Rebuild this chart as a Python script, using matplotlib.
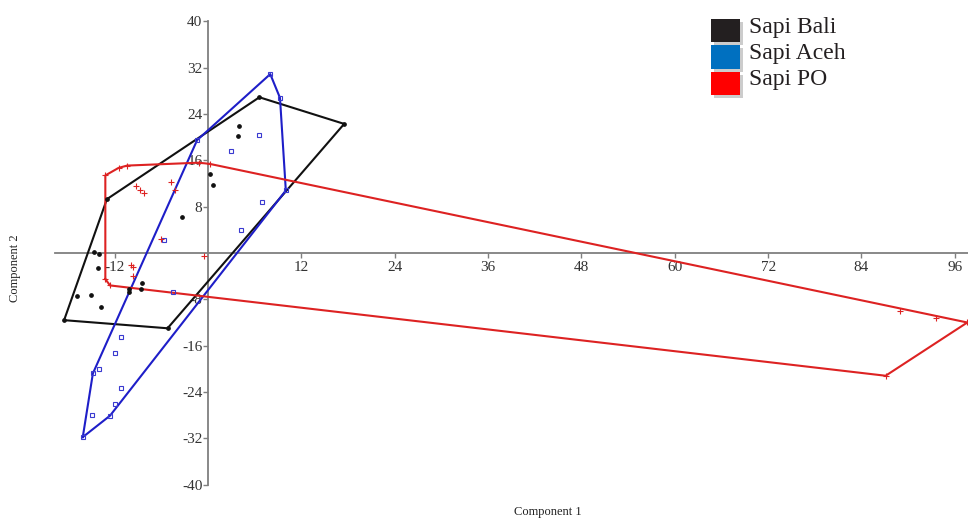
import matplotlib
matplotlib.use("Agg")
import matplotlib.pyplot as plt
from matplotlib.patches import Rectangle

plt.rcParams["font.family"] = ["Liberation Serif", "DejaVu Serif"]

groups = ["Sapi Bali", "Sapi Aceh", "Sapi PO"]
legend_colors = ["#231f20", "#0070c0", "#ff0000"]

# PCA scores (Component 1, Component 2)
bali_x = [-18.5, -5.2, 17.5, 6.6, -13.0, 4.0, 3.8, 0.3, 0.7, -3.4,
          -14.6, -14.0, -14.1, -16.8, -15.0, -13.8, -8.5, -8.6, -10.1, -10.2]
bali_y = [-11.6, -13.0, 22.3, 26.9, 9.3, 22.0, 20.2, 13.7, 11.7, 6.3,
          0.1, -0.1, -2.6, -7.4, -7.3, -9.4, -5.2, -6.2, -6.3, -6.8]

aceh_x = [-16.1, -12.6, 10.0, 9.25, 8.0, -1.4, -14.8, 6.6, 3.0, 7.0,
          4.2, -5.6, -4.5, -11.2, -12.0, -14.0, -11.2, -12.0, -14.9]
aceh_y = [-31.8, -28.1, 10.8, 26.8, 30.9, 19.5, -20.8, 20.4, 17.6, 8.8,
          3.9, 2.2, -6.8, -14.5, -17.2, -20.1, -23.4, -26.1, -28.0]

po_x = [-13.2, -11.5, -10.4, -1.2, 0.2, 97.6, 87.1, -12.6, -13.2, -9.3,
        -8.7, -8.2, -4.8, -4.2, -6.0, -0.5, -9.9, -9.7, -9.7, 88.9, 93.6]
po_y = [13.4, 14.7, 15.1, 15.6, 15.4, -12.0, -21.2, -5.6, -4.5, 11.6,
        10.9, 10.3, 12.3, 10.9, 2.5, -0.5, -2.1, -2.4, -3.9, -10.1, -11.3]

x_ticks = [-12, 12, 24, 36, 48, 60, 72, 84, 96]
y_ticks = [-40, -32, -24, -16, -8, 8, 16, 24, 32, 40]


def convex_hull(xs, ys):
    pts = sorted(set(zip(xs, ys)))

    def cross(o, a, b):
        return (a[0] - o[0]) * (b[1] - o[1]) - (a[1] - o[1]) * (b[0] - o[0])

    lower, upper = [], []
    for p in pts:
        while len(lower) >= 2 and cross(lower[-2], lower[-1], p) <= 0:
            lower.pop()
        lower.append(p)
    for p in reversed(pts):
        while len(upper) >= 2 and cross(upper[-2], upper[-1], p) <= 0:
            upper.pop()
        upper.append(p)
    h = lower[:-1] + upper[:-1]
    h.append(h[0])
    return [p[0] for p in h], [p[1] for p in h]


fig = plt.figure(figsize=(9.68, 5.18), dpi=100)
ax = fig.add_axes([0, 0, 1, 1])
ax.set_xlim(-26.74, 97.69)
ax.set_ylim(-45.77, 43.7)

for s in ["top", "right"]:
    ax.spines[s].set_visible(False)
ax.spines["left"].set_position("zero")
ax.spines["bottom"].set_position("zero")
ax.spines["left"].set_bounds(-40, 40)
ax.spines["bottom"].set_bounds(-19.7, 97.7)
for s in ["left", "bottom"]:
    ax.spines[s].set_color("#7f7f7f")
    ax.spines[s].set_linewidth(1.3)
ax.set_xticks(x_ticks)
ax.set_yticks(y_ticks)
ax.set_xticklabels([str(t) for t in x_ticks])
ax.set_yticklabels([str(t) for t in y_ticks])
ax.tick_params(direction="out", length=3.5, color="#7f7f7f", width=1,
               labelsize=11, labelcolor="#333333", pad=0.5)
ax.tick_params(axis="x", pad=2)

series = [
    (bali_x, bali_y, "#111111", dict(marker="o", ms=2.4, mfc="#111111", mec="#111111")),
    (aceh_x, aceh_y, "#1e1ec8", dict(marker="s", ms=3.3, mfc="none", mec="#3a3ad0", mew=0.8)),
    (po_x, po_y, "#dd2222", dict(marker="+", ms=4, mec="#dd2222", mew=0.8)),
]
for xs, ys, col, mk in series:
    hx, hy = convex_hull(xs, ys)
    ax.plot(hx, hy, color=col, lw=1.5, zorder=3, clip_on=False)
    ax.plot(xs, ys, ls="none", zorder=4, **mk)

fig.text(548 / 968, 1 - 512 / 518, "Component 1", ha="center", va="center",
         fontsize=9, color="#222222")
fig.text(15 / 968, 1 - 268 / 518, "Component 2", ha="center", va="center",
         fontsize=9, rotation=90, color="#222222")

# legend drawn as coloured squares with a soft shadow
for i, (name, col) in enumerate(zip(groups, legend_colors)):
    top = 19 + i * 26.5
    fig.add_artist(Rectangle((714 / 968, 1 - (top + 26) / 518), 29 / 968, 23 / 518,
                             transform=fig.transFigure, facecolor="#cccccc",
                             edgecolor="none"))
    fig.add_artist(Rectangle((711 / 968, 1 - (top + 23) / 518), 29 / 968, 23 / 518,
                             transform=fig.transFigure, facecolor=col,
                             edgecolor="none"))
    fig.text(749 / 968, 1 - (top + 13.5) / 518, name, ha="left", va="baseline",
             fontsize=17, color="#231f20")

fig.savefig("out.png", dpi=100, facecolor="white")
